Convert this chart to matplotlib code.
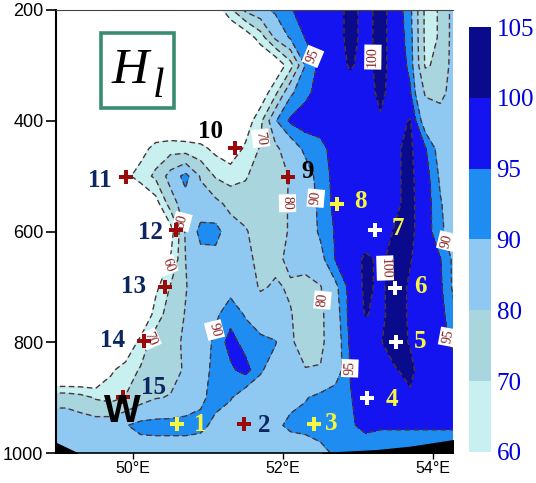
import numpy as np
import matplotlib.pyplot as plt
from matplotlib.patches import Rectangle

plt.rcParams['lines.dashed_pattern'] = [4.0, 2.5]
plt.rcParams['lines.scale_dashes'] = False
plt.rcParams['font.family'] = 'Liberation Sans'

# grid nodes (longitude, pressure)
lon = [48.9, 49.1, 49.3, 49.5, 49.7, 49.9, 50.1, 50.3, 50.5, 50.7, 50.9, 51.1, 51.3, 51.5,
       51.7, 51.9, 52.1, 52.3, 52.5, 52.7, 52.9, 53.1, 53.3, 53.5, 53.7, 53.9, 54.1, 54.3]
pres = [200, 250, 300, 350, 400, 450, 500, 550, 600, 650, 700, 750, 800, 850, 900, 950, 1000]

# field values, one row per pressure level
hl = np.array([
    [45]*11 + [52, 68, 82, 87, 91.5, 94.5, 97.5, 97.5, 98, 101.5, 98.5, 101.5, 98, 92, 68, 70.5, 86],
    [45]*13 + [52, 65, 82, 91, 95.2, 97.5, 98, 101.5, 98.5, 101.5, 98, 93, 68, 70.5, 86],
    [45]*15 + [50, 66, 90.5, 96.5, 98, 100.5, 98.5, 101.5, 98, 94, 69, 72, 86],
    [45]*14 + [52, 68, 89, 93.8, 97, 97.5, 97.5, 98, 101, 98, 95.5, 79, 77, 85],
    [45]*13 + [53, 67.5, 89.5, 96, 97.5, 97.5, 97.5, 97.5, 97.5, 99.5, 98.5, 100.3, 86, 85, 85],
    [45]*6 + [55, 64, 66, 65, 63, 57, 52, 62, 71, 78, 86, 91.5, 93.5, 97, 97.5, 97.5, 97.5, 99.5, 100.8, 95.5, 87, 85],
    [45]*5 + [57, 65, 72, 84, 93, 79, 69, 66, 69, 75, 77, 80.5, 87, 92.5, 96.5, 97.5, 97.5, 97.5, 99.5, 100.8, 97.5, 89, 85],
    [45]*7 + [55, 75, 86, 85, 83, 77, 75, 74, 76, 81, 86, 91.5, 96.5, 97.5, 97.5, 97.5, 99.5, 100.8, 98, 90.5, 86],
    [45]*8 + [55, 81.5, 92.5, 93, 85, 81, 75, 76, 81, 86, 91, 95.5, 97.5, 97.5, 98.5, 100.3, 100.8, 98, 91, 87],
    [45]*8 + [60.5, 80, 87, 87, 85, 83, 77, 78, 82, 85, 88, 95.3, 97.5, 100.8, 99.3, 101.5, 100.2, 98, 95.3, 88],
    [45]*7 + [57, 71, 79.5, 85, 87, 88, 85, 79, 81, 79, 76, 79.5, 88.5, 97, 100.8, 99.3, 101.5, 99.5, 97.5, 96, 88],
    [45]*7 + [65, 75, 80.5, 85, 89, 93, 89.5, 85, 83, 80.5, 76, 78, 87, 97, 100.2, 99.2, 101.5, 99.5, 97.5, 97, 90.5],
    [45]*5 + [48, 64, 75, 78, 81, 86, 91.5, 97, 93, 92, 90.5, 81, 77, 78, 86, 96, 97.5, 99.8, 101.5, 99.7, 97.5, 97.5, 93],
    [35, 35, 38, 42, 58, 65, 71, 75, 77, 81, 87, 92, 94, 97, 91, 86, 82, 80.3, 80.5, 86, 95.3, 97.5, 98, 99.8, 100.8, 98, 97.5, 97.5],
    [77, 77, 74, 69, 67, 70.5, 76, 79.5, 80.5, 84, 88.5, 92.5, 90.5, 86, 85, 86, 88, 89.5, 92, 93.5, 94.7, 97.5, 97.5, 98.5, 99.5, 97.5, 97.5, 97.5],
    [85, 85, 85, 85, 86, 89.5, 92.5, 93, 93, 93, 92, 88, 86, 85, 86, 88.5, 91.5, 92.5, 93, 93.5, 94.5, 96, 95.5, 95.5, 95.5, 95.5, 95.5, 95.5],
    [85]*18 + [88, 91] + [92.5]*8,
])

levels = [60, 70, 80, 90, 95, 100, 105]
band_colors = ['#c8f0f0', '#a9d5de', '#8fc8f0', '#1e8cf0', '#1414f0', '#0a0a8c']

# terrain (black)
terr_lon_w = [48.97, 49.25]
terr_p_w = [982, 1000]
terr_lon_e = [52.53, 53.25, 53.69, 54.27]
terr_p_e = [1000, 995, 989, 977]

# stations
st_lon = [50.59, 51.48, 52.41, 53.12, 53.51, 53.49, 53.23, 52.72, 52.07, 51.36, 49.91, 50.57, 50.43, 50.15, 49.87]
st_p = [948, 948, 948, 901, 800, 702, 597, 550, 502, 449, 502, 597, 700, 798, 899]
st_color = ['#f5f542', '#9b0a0a', '#f5f542', 'white', 'white', 'white', 'white', '#f5f542',
            '#9b0a0a', '#9b0a0a', '#9b0a0a', '#9b0a0a', '#9b0a0a', '#9b0a0a', '#9b0a0a']
lab_lon = [50.89, 51.75, 52.64, 53.45, 53.83, 53.83, 53.53, 53.03, 52.33, 51.03, 49.56, 50.23, 50.0, 49.73, 50.27]
lab_p = [948, 951, 946, 904, 798, 700, 595, 545, 491, 420, 507, 601, 700, 796, 881]
lab_color = ['#f5f542', '#0d2560', '#f5f542', '#f5f542', '#f5f542', '#f5f542', '#f5f542', '#f5f542',
             'black', 'black', '#0d2560', '#0d2560', '#0d2560', '#0d2560', '#0d2560']

clabel_pos = [(52.45, 281), (53.2, 285), (51.65, 431), (52.43, 540), (52.07, 549), (50.63, 583),
              (50.45, 660), (50.2, 792), (51.09, 778), (52.52, 724), (53.35, 666), (52.89, 847),
              (54.12, 792), (54.13, 619)]

fig = plt.figure(figsize=(5.36, 4.83), dpi=100)
ax = fig.add_axes([56/536, 1-453/483, 397/536, 443/483])

cf = ax.contourf(lon, pres, hl, levels=levels, colors=band_colors)
cs = ax.contour(lon, pres, hl, levels=levels[:-1], colors='#4d3535', linewidths=1.0, linestyles='dashed')
labs = ax.clabel(cs, manual=clabel_pos, inline=True, inline_spacing=2, fmt='%d', fontsize=10)
for t in labs:
    t.set_color('#8b2020')
    t.set_fontfamily('Liberation Serif')
    t.set_bbox(dict(boxstyle='square,pad=0.15', fc='white', ec='none'))

ax.fill_between(terr_lon_w, terr_p_w, 1000, color='black', zorder=3)
ax.fill_between(terr_lon_e, terr_p_e, 1000, color='black', zorder=3)

for i in range(len(st_lon)):
    ax.plot(st_lon[i], st_p[i], 'P', color=st_color[i], markersize=9.5, markeredgewidth=0, zorder=5)
    ax.text(lab_lon[i], lab_p[i], str(i+1), color=lab_color[i], fontsize=18, fontweight='bold',
            family='Liberation Serif', ha='center', va='center', zorder=6)

ax.text(49.85, 926, 'W', fontsize=28, fontweight='bold', family='Liberation Sans',
        ha='center', va='center', zorder=6)

ax.set_xlim(48.97, 54.27)
ax.set_ylim(1000, 200)
ax.set_yticks([200, 400, 600, 800, 1000])
ax.set_xticks([50, 52, 54])
ax.set_xticklabels(['50°E', '52°E', '54°E'])
ax.tick_params(axis='y', length=7, width=1.2, labelsize=13, pad=2)
ax.tick_params(axis='x', length=4, width=1, labelsize=11.5, pad=2)
ax.spines['right'].set_visible(False)
ax.spines['left'].set_linewidth(1.5)
ax.spines['bottom'].set_linewidth(1.2)
ax.spines['top'].set_color('#444444')

# H_l box
fig.add_artist(Rectangle((101/536, 1-108/483), 73/536, 75/483, transform=fig.transFigure,
                         fill=False, edgecolor='#3a8c6e', linewidth=2.6))
fig.text(130/536, 1-83/483, 'H', fontsize=37, style='italic', family='Liberation Serif',
         ha='center', va='baseline')
fig.text(159/536, 1-97/483, 'l', fontsize=30, style='italic', family='Liberation Serif',
         ha='center', va='baseline')

cax = fig.add_axes([469/536, 1-452/483, 22/536, 425/483])
cb = fig.colorbar(cf, cax=cax, ticks=levels)
cb.outline.set_visible(False)
cax.tick_params(length=0, labelsize=18, labelcolor='#0000dd', pad=4)
for t in cax.get_yticklabels():
    t.set_fontfamily('Liberation Serif')

fig.savefig('out.png', dpi=100)
